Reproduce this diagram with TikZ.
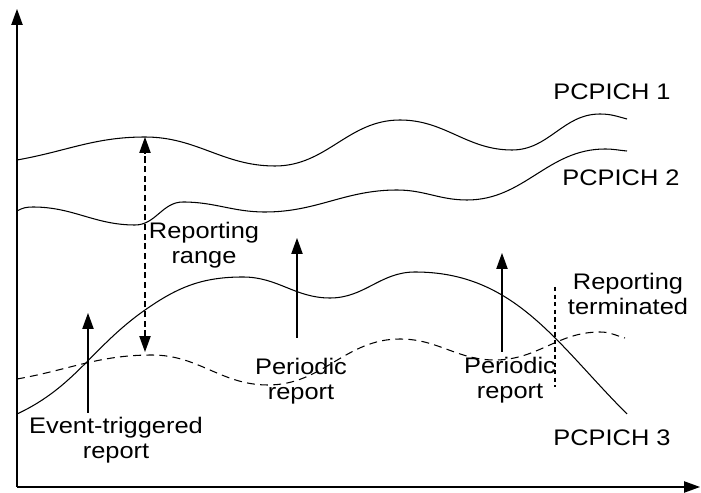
\documentclass[tikz,border=0pt]{standalone}
\usepackage{fontspec}
\setmainfont[FakeStretch=1.13]{Liberation Sans}
\usepackage{tikz}
\usetikzlibrary{arrows.meta}
\tikzset{
  axisline/.style={line width=0.65pt, -{Triangle[width=6.4pt,length=9pt]}},
  pilot/.style={line width=0.6pt},
  pilotdash/.style={pilot, dash pattern=on 4.5pt off 3pt},
  report/.style={line width=0.6pt, -{Triangle[width=6.4pt,length=9pt]}},
  rangeline/.style={line width=0.6pt, {Triangle[width=6.4pt,length=9pt]}-{Triangle[width=6.4pt,length=9pt]}, dash pattern=on 3.5pt off 2pt},
  stopline/.style={line width=0.6pt, dash pattern=on 2.5pt off 1.8pt},
  lbl/.style={font=\fontsize{12.8}{14.2}\selectfont, inner sep=0pt, align=center},
}

\begin{document}
\begin{tikzpicture}[x=0.02cm, y=-0.02cm]
  \useasboundingbox (0,0) rectangle (701,493);

  % axes
  \coordinate (origin) at (17,487);
  \coordinate (ytop) at (17,9);
  \coordinate (xend) at (700,487);
  \draw[axisline] (origin) -- (ytop);
  \draw[axisline] (origin) -- (xend);

  % PCPICH 1 - strongest pilot
  \draw[pilot] (17,160) to[out=10,in=180] (145,137) to[out=0,in=180] (275,166)
    to[out=0,in=180] (400,120) to[out=0,in=180] (512,150)
    to[out=0,in=180] (600,114) to[out=0,in=165] (627,119);
  \node[lbl] (pc1) at (612,92) {PCPICH 1};

  % PCPICH 2
  \draw[pilot] (17,211) to[out=30,in=180] (33,207) to[out=0,in=180] (135,225)
    to[out=0,in=180] (183,202) to[out=0,in=180] (265,212)
    to[out=0,in=180] (397,190) to[out=0,in=180] (467,200)
    to[out=0,in=180] (605,149) to[out=0,in=175] (627,151);
  \node[lbl] (pc2) at (621,178) {PCPICH 2};

  % PCPICH 3
  \draw[pilot] (17,414) to[out=25,in=215] (145,310) to[out=35,in=180] (243,277)
    to[out=0,in=180] (330,298) to[out=0,in=180] (415,272)
    to[out=0,in=135] (627,414);
  \node[lbl] (pc3) at (612,438) {PCPICH 3};

  % lower edge of the reporting range
  \draw[pilotdash] (17,379) to[out=10,in=180] (152,355) to[out=0,in=180] (268,385)
    to[out=0,in=180] (400,339) to[out=0,in=180] (495,360)
    to[out=0,in=180] (600,332) to[out=0,in=165] (625,338);

  % reporting range
  \coordinate (rngtop) at (145,137);
  \coordinate (rngbot) at (145,352);
  \draw[rangeline] (rngbot) -- (rngtop);
  \node[lbl] (rng) at (204,245) {Reporting\\range};

  % event-triggered report
  \coordinate (evtlo) at (88,413);
  \coordinate (evthi) at (88,313);
  \draw[report] (evtlo) -- (evthi);
  \node[lbl] (evt) at (116,440) {Event-triggered\\report};

  % periodic reports
  \coordinate (per1lo) at (297,338);
  \coordinate (per1hi) at (297,238);
  \draw[report] (per1lo) -- (per1hi);
  \node[lbl] (per1) at (301,381) {Periodic\\report};

  \coordinate (per2lo) at (502,352);
  \coordinate (per2hi) at (502,253);
  \draw[report] (per2lo) -- (per2hi);
  \node[lbl] (per2) at (510,380) {Periodic\\report};

  % reporting terminated
  \coordinate (stoptop) at (555,287);
  \coordinate (stopbot) at (555,387);
  \draw[stopline] (stoptop) -- (stopbot);
  \node[lbl] (stop) at (628,294) {Reporting\\terminated};
\end{tikzpicture}
\end{document}
